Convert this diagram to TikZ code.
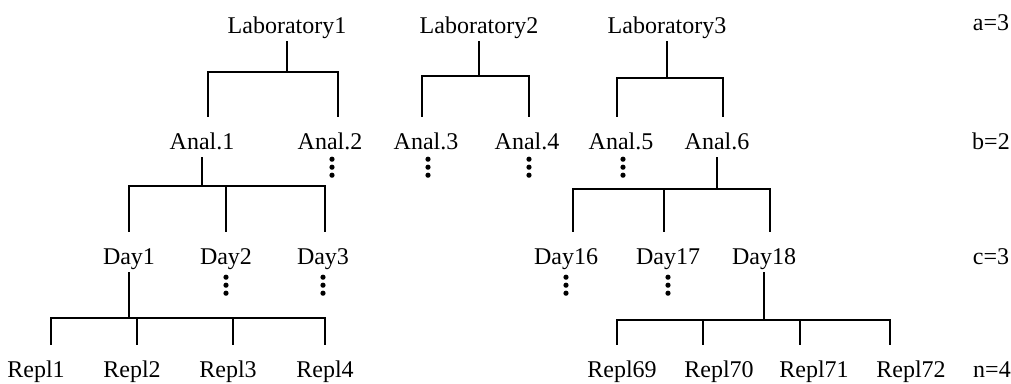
\documentclass[tikz,border=0pt]{standalone}
\usepackage{fontspec}
\setmainfont{Liberation Serif}
\begin{document}
\begin{tikzpicture}[x=1pt, y=-1pt,
    lbl/.style={anchor=base, inner sep=0pt, text height=32pt, text depth=8pt, font=\fontsize{24}{28}\selectfont},
    tree/.style={line width=2pt}]
  \useasboundingbox[fill=white] (0,0) rectangle (1011,383);
  % laboratories
  \node[lbl] (lab1) at (287,33) {Laboratory1};
  \node[lbl] (lab2) at (479,33) {Laboratory2};
  \node[lbl] (lab3) at (667,33) {Laboratory3};
  % analysts
  \node[lbl] (a1) at (202,149) {Anal.1};
  \node[lbl] (a2) at (330,149) {Anal.2};
  \node[lbl] (a3) at (426,149) {Anal.3};
  \node[lbl] (a4) at (527,149) {Anal.4};
  \node[lbl] (a5) at (621,149) {Anal.5};
  \node[lbl] (a6) at (717,149) {Anal.6};
  % days
  \node[lbl] (d1) at (129,264) {Day1};
  \node[lbl] (d2) at (226,264) {Day2};
  \node[lbl] (d3) at (323,264) {Day3};
  \node[lbl] (d16) at (566,264) {Day16};
  \node[lbl] (d17) at (668,264) {Day17};
  \node[lbl] (d18) at (764,264) {Day18};
  % replicates
  \node[lbl] (r1) at (36,377) {Repl1};
  \node[lbl] (r2) at (132,377) {Repl2};
  \node[lbl] (r3) at (228,377) {Repl3};
  \node[lbl] (r4) at (325,377) {Repl4};
  \node[lbl] (r69) at (622,377) {Repl69};
  \node[lbl] (r70) at (719,377) {Repl70};
  \node[lbl] (r71) at (814,377) {Repl71};
  \node[lbl] (r72) at (911,377) {Repl72};
  % number of levels
  \node[lbl] (na) at (991,30) {a=3};
  \node[lbl] (nb) at (991,149) {b=2};
  \node[lbl] (nc) at (991,264) {c=3};
  \node[lbl] (nn) at (992,377) {n=4};

  % brackets
  \draw[tree] (lab1.south) -- ++(0,31) coordinate (l1) -| ([xshift=6pt]a1.north);
  \draw[tree] (l1) -| ([xshift=8pt]a2.north);
  \draw[tree] (lab2.south) -- ++(0,35) coordinate (l2) -| ([xshift=-4pt]a3.north);
  \draw[tree] (l2) -| ([xshift=2pt]a4.north);
  \draw[tree] (lab3.south) -- ++(0,37) coordinate (l3) -| ([xshift=-4pt]a5.north);
  \draw[tree] (l3) -| ([xshift=6pt]a6.north);
  \draw[tree] (a1.south) -- ++(0,29) coordinate (m1) -| (d1.north);
  \draw[tree] (m1) -| (d2.north);
  \draw[tree] (m1) -| ([xshift=2pt]d3.north);
  \draw[tree] (a6.south) -- ++(0,32) coordinate (m6) -| ([xshift=7pt]d16.north);
  \draw[tree] (m6) -| ([xshift=-4pt]d17.north);
  \draw[tree] (m6) -| ([xshift=6pt]d18.north);
  \draw[tree] (d1.south) -- ++(0,46) coordinate (n1) -| ([xshift=15pt]r1.north);
  \draw[tree] (n1) -| ([xshift=5pt]r2.north);
  \draw[tree] (n1) -| ([xshift=5pt]r3.north);
  \draw[tree] (n1) -| (r4.north);
  \draw[tree] (d18.south) -- ++(0,48) coordinate (n18) -| ([xshift=-5pt]r69.north);
  \draw[tree] (n18) -| ([xshift=-16pt]r70.north);
  \draw[tree] (n18) -| ([xshift=-14pt]r71.north);
  \draw[tree] (n18) -| ([xshift=-21pt]r72.north);

  % vertical dots
  \foreach \n in {a2,a3,a4,a5}
    \foreach \k in {2,10,18}
      \fill (\n.south) ++(2,\k) circle (2.6pt);
  \foreach \n in {d2,d3,d16,d17}
    \foreach \k in {5,13,21}
      \fill (\n.south) ++(0,\k) circle (2.6pt);
\end{tikzpicture}
\end{document}
